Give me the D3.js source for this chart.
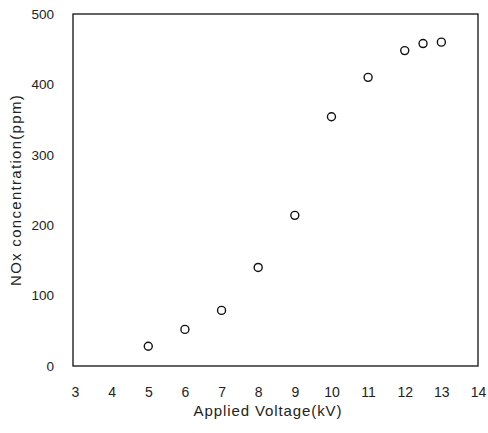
<!DOCTYPE html>
<html>
<head>
<meta charset="utf-8">
<script src="https://cdn.jsdelivr.net/npm/d3@7"></script>
<style>
  body { margin: 0; background: #fff; }
  text { font-family: "Liberation Sans", Arial, sans-serif; fill: #222; }
</style>
</head>
<body>
<div id="chart"></div>
<script>
// data
let voltage = [5, 6, 7, 8, 9, 10, 11, 12, 12.5, 13];
let noxPpm = [28, 52, 79, 140, 214, 354, 410, 448, 458, 460];
let xTicks = [3, 4, 5, 6, 7, 8, 9, 10, 11, 12, 13, 14];
let yTicks = [0, 100, 200, 300, 400, 500];

let svgWidth = 488;
let svgHeight = 433;

let margin = { top: 14, left: 75, bottom: 67, right: 10 };
let width = svgWidth - margin.left - margin.right;
let height = svgHeight - margin.top - margin.bottom;

let svg = d3.select("#chart")
    .append("svg")
    .attr("width", svgWidth)
    .attr("height", svgHeight);

let chartGroup = svg.append("g")
    .attr("transform", `translate(${margin.left}, ${margin.top})`);

let xScale = d3.scaleLinear().domain([3, 14]).range([0, width]);
let yScale = d3.scaleLinear().domain([0, 500]).range([height, 0]);

// frame
chartGroup.append("rect")
    .attr("x", -2)
    .attr("y", 0)
    .attr("width", width + 2)
    .attr("height", height)
    .attr("fill", "none")
    .attr("stroke", "#111")
    .attr("stroke-width", 1.3);

// axes, labels only
let xAxis = d3.axisBottom(xScale).tickValues(xTicks).tickSize(0).tickPadding(21);
let yAxis = d3.axisLeft(yScale).tickValues(yTicks).tickSize(0).tickPadding(21);

let gx = chartGroup.append("g")
    .attr("transform", `translate(0, ${height})`)
    .call(xAxis);
gx.select(".domain").remove();
gx.selectAll("text").style("font-size", "14px").attr("fill", "#222");

let gy = chartGroup.append("g").call(yAxis);
gy.select(".domain").remove();
gy.selectAll("text").style("font-size", "13.5px").attr("fill", "#222");

// axis titles
svg.append("text")
    .attr("x", 268)
    .attr("y", 416)
    .attr("text-anchor", "middle")
    .style("font-size", "15px")
    .style("letter-spacing", "0.9px")
    .text("Applied Voltage(kV)");

svg.append("text")
    .attr("transform", "translate(21, 190) rotate(-90)")
    .attr("text-anchor", "middle")
    .style("font-size", "15px")
    .style("letter-spacing", "1.3px")
    .text("NOx concentration(ppm)");

// points
chartGroup.selectAll("circle")
    .data(voltage)
    .enter()
    .append("circle")
    .attr("cx", d => xScale(d))
    .attr("cy", (d, i) => yScale(noxPpm[i]))
    .attr("r", 4)
    .attr("fill", "none")
    .attr("stroke", "#111")
    .attr("stroke-width", 1.4);
</script>
</body>
</html>
